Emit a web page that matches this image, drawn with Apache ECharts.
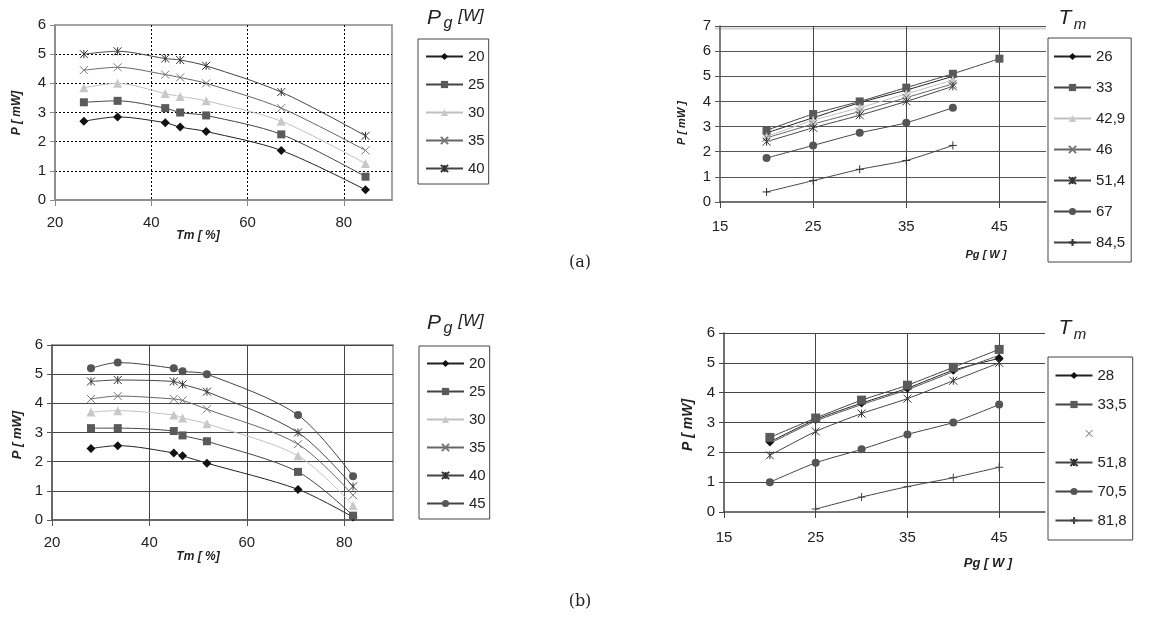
<!DOCTYPE html>
<html>
<head>
<meta charset="utf-8">
<script src="https://cdn.jsdelivr.net/npm/echarts@6/dist/echarts.min.js"></script>
<style>
  html, body { margin: 0; background: #fff; }
  #main { width: 1161px; height: 620px; }
</style>
</head>
<body>
<div id="main"></div>
<script>
// (a) lewy: P w funkcji Tm dla kilku Pg
const tmA = [26, 33, 42.9, 46, 51.4, 67, 84.5];
const pA20 = [2.7, 2.85, 2.65, 2.5, 2.35, 1.7, 0.35];
const pA25 = [3.35, 3.4, 3.15, 3.0, 2.9, 2.25, 0.8];
const pA30 = [3.85, 4.0, 3.65, 3.55, 3.4, 2.7, 1.25];
const pA35 = [4.45, 4.55, 4.3, 4.2, 4.0, 3.15, 1.7];
const pA40 = [5.0, 5.1, 4.85, 4.8, 4.6, 3.7, 2.2];

// (a) prawy: P w funkcji Pg dla kilku Tm
const pgB = [20, 25, 30, 35, 40, 45];
const pB26 = [2.75, 3.35, 3.95, 4.45, 5.0, null];
const pB33 = [2.85, 3.5, 4.0, 4.55, 5.1, 5.7];
const pB429 = [2.6, 3.25, 3.75, 4.3, 4.85, null];
const pB46 = [2.55, 3.1, 3.6, 4.15, 4.7, null];
const pB514 = [2.4, 2.95, 3.45, 4.0, 4.6, null];
const pB67 = [1.75, 2.25, 2.75, 3.15, 3.75, null];
const pB845 = [0.4, 0.85, 1.3, 1.65, 2.25, null];

// (b) lewy
const tmC = [28, 33.5, 45, 46.8, 51.8, 70.5, 81.8];
const pC20 = [2.45, 2.55, 2.3, 2.2, 1.95, 1.05, 0.1];
const pC25 = [3.15, 3.15, 3.05, 2.9, 2.7, 1.65, 0.15];
const pC30 = [3.7, 3.75, 3.6, 3.5, 3.3, 2.2, 0.5];
const pC35 = [4.15, 4.25, 4.15, 4.1, 3.8, 2.6, 0.85];
const pC40 = [4.75, 4.8, 4.75, 4.65, 4.4, 3.0, 1.15];
const pC45 = [5.2, 5.4, 5.2, 5.1, 5.0, 3.6, 1.5];

// (b) prawy
const pgD = [20, 25, 30, 35, 40, 45];
const pD28 = [2.35, 3.1, 3.65, 4.15, 4.75, 5.15];
const pD335 = [2.5, 3.15, 3.75, 4.25, 4.85, 5.45];
const pDx = [2.3, 3.05, 3.6, 4.1, 4.7, 5.25];
const pD518 = [1.9, 2.7, 3.3, 3.8, 4.4, 5.0];
const pD705 = [1.0, 1.65, 2.1, 2.6, 3.0, 3.6];
const pD818 = [null, 0.1, 0.5, 0.85, 1.15, 1.5];

const FONT = 'Liberation Sans';
const SYM_X = 'path://M0,0L10,10M10,0L0,10';
const SYM_STAR = 'path://M0,0L10,10M10,0L0,10M5,0L5,10';
const SYM_PLUS = 'path://M5,0L5,10M0,5L10,5';

function line(name, gi, xs, ys, sym, col, lineCol, size, smooth) {
  const stroked = sym.indexOf('path://') === 0;
  return {
    name: name,
    type: 'line',
    xAxisIndex: gi,
    yAxisIndex: gi,
    data: xs.map((x, i) => [x, ys[i]]),
    smooth: smooth,
    symbol: sym,
    symbolSize: size,
    symbolKeepAspect: true,
    showSymbol: sym !== 'none',
    lineStyle: { color: lineCol, width: 1 },
    itemStyle: stroked
      ? { color: 'none', borderColor: col, borderWidth: 1 }
      : { color: col, borderWidth: 0 },
    emphasis: { disabled: true },
    silent: true,
    animation: false
  };
}

function xAx(gi, min, max, interval, c, split, margin) {
  return {
    gridIndex: gi, type: 'value', min: min, max: max, interval: interval,
    axisLine: { show: true, onZero: false, lineStyle: { color: c, width: 1.5 } },
    axisTick: { show: true, length: 6, lineStyle: { color: c } },
    axisLabel: { showMaxLabel: false, fontSize: 15, color: '#222', fontFamily: FONT, margin: margin },
    splitLine: { show: true, showMinLine: false, showMaxLine: false, lineStyle: split }
  };
}

function yAx(gi, max, c, split, topLine) {
  return {
    gridIndex: gi, type: 'value', min: 0, max: max, interval: 1,
    axisLine: { show: true, onZero: false, lineStyle: { color: c, width: 1.5 } },
    axisTick: { show: true, length: 5, lineStyle: { color: c } },
    axisLabel: { fontSize: 15, color: '#222', fontFamily: FONT, margin: 9 },
    splitLine: { show: true, showMinLine: false, showMaxLine: topLine, lineStyle: split }
  };
}

function legend(left, top, names, gap, padding) {
  return {
    left: left, top: top, orient: 'vertical',
    data: names,
    formatter: n => n.split('|')[1],
    itemWidth: 37, itemHeight: 9, itemGap: gap,
    padding: padding,
    borderColor: '#444', borderWidth: 1,
    selectedMode: false,
    textStyle: { fontSize: 15, color: '#222', fontFamily: FONT }
  };
}

function txt(x, y, text, font, rot) {
  return {
    type: 'text', x: x, y: y, rotation: rot || 0, silent: true,
    style: { text: text, font: font, fill: '#222', align: 'center', verticalAlign: 'middle' }
  };
}

const AXFONT = 'italic bold 12px "Liberation Sans"';
const SUBF = 'italic 21px "Liberation Sans"';
const SUBS = 'italic 15px "Liberation Sans"';

const dotted = { color: '#000', type: [2, 2], width: 1 };
const solid = { color: '#444', width: 1 };

const option = {
  animation: false,
  grid: [
    { left: 55, top: 25, width: 337, height: 175, show: true, borderColor: '#888', borderWidth: 1.5 },
    { left: 720, top: 26, width: 326, height: 176 },
    { left: 52, top: 345, width: 341, height: 175, show: true, borderColor: '#888', borderWidth: 1.5 },
    { left: 724, top: 333, width: 321, height: 179 }
  ],
  xAxis: [
    xAx(0, 20, 90, 20, '#888', dotted, 15),
    xAx(1, 15, 50, 10, '#444', solid, 17),
    xAx(2, 20, 90, 20, '#555', solid, 15),
    xAx(3, 15, 50, 10, '#444', solid, 18)
  ],
  yAxis: [
    yAx(0, 6, '#888', dotted, false),
    yAx(1, 7, '#555', { color: '#555', width: 1 }, true),
    yAx(2, 6, '#555', solid, true),
    yAx(3, 6, '#444', solid, true)
  ],
  legend: [
    legend(418, 39, ['A|20', 'A|25', 'A|30', 'A|35', 'A|40'], 13, [10, 4, 8, 7]),
    legend(1048, 38, ['B|26', 'B|33', 'B|42,9', 'B|46', 'B|51,4', 'B|67', 'B|84,5'], 16, [11, 6, 12, 5]),
    legend(419, 346, ['C|20', 'C|25', 'C|30', 'C|35', 'C|40', 'C|45'], 13, [10, 4, 8, 7]),
    legend(1048, 357, ['D|28', 'D|33,5',
      { name: 'D| ', icon: 'path://M0,0M37,9M31,1L38,8M38,1L31,8', itemStyle: { color: 'none', borderColor: '#666', borderWidth: 1 } },
      'D|51,8', 'D|70,5', 'D|81,8'], 14, [11, 6, 12, 5])
  ],
  graphic: [
    // podwójna górna krawędź wykresu (a) prawego
    { type: 'line', silent: true, shape: { x1: 715, y1: 28.5, x2: 1046, y2: 28.5 }, style: { stroke: '#d0d0d0', lineWidth: 2 } },
    txt(198, 236, 'Tm [ %]', AXFONT),
    txt(17, 113, 'P [ mW]', AXFONT, Math.PI / 2),
    txt(986, 255, 'Pg [ W ]', 'italic bold 11px "Liberation Sans"'),
    txt(682, 123, 'P [ mW ]', 'italic bold 11px "Liberation Sans"', Math.PI / 2),
    txt(198, 557, 'Tm [ %]', AXFONT),
    txt(17, 435, 'P [ mW]', 'italic bold 13px "Liberation Sans"', Math.PI / 2),
    txt(988, 563, 'Pg [ W ]', 'italic bold 13px "Liberation Sans"'),
    txt(688, 425, 'P [ mW]', 'italic bold 14px "Liberation Sans"', Math.PI / 2),
    txt(580, 263, '(a)', '16px "DejaVu Serif"'),
    txt(580, 602, '(b)', '16px "DejaVu Serif"'),
    // tytuły legend
    txt(434, 18, 'P', SUBF), txt(448, 24, 'g', 'italic 16px "Liberation Sans"'), txt(471, 16, '[W]', 'italic 17px "Liberation Sans"'),
    txt(434, 323, 'P', SUBF), txt(448, 329, 'g', 'italic 16px "Liberation Sans"'), txt(471, 321, '[W]', 'italic 17px "Liberation Sans"'),
    txt(1065, 18, 'T', SUBF), txt(1080, 25, 'm', SUBS),
    txt(1065, 328, 'T', SUBF), txt(1080, 335, 'm', SUBS)
  ],
  series: [
    line('A|20', 0, tmA, pA20, 'diamond', '#111', '#222', 9, 0.3),
    line('A|25', 0, tmA, pA25, 'rect', '#5a5a5a', '#444', 8, 0.3),
    line('A|30', 0, tmA, pA30, 'triangle', '#c8c8c8', '#c0c0c0', 9, 0.3),
    line('A|35', 0, tmA, pA35, SYM_X, '#777', '#666', 8, 0.3),
    line('A|40', 0, tmA, pA40, SYM_STAR, '#333', '#444', 8, 0.3),

    line('B|26', 1, pgB, pB26, 'diamond', '#111', '#222', 8, 0.2),
    line('B|33', 1, pgB, pB33, 'rect', '#5a5a5a', '#444', 8, 0.2),
    line('B|42,9', 1, pgB, pB429, 'triangle', '#c8c8c8', '#c0c0c0', 9, 0.2),
    line('B|46', 1, pgB, pB46, SYM_X, '#777', '#666', 8, 0.2),
    line('B|51,4', 1, pgB, pB514, SYM_STAR, '#333', '#444', 8, 0.2),
    line('B|67', 1, pgB, pB67, 'circle', '#555', '#444', 8, 0.2),
    line('B|84,5', 1, pgB, pB845, SYM_PLUS, '#333', '#444', 8, 0.2),

    line('C|20', 2, tmC, pC20, 'diamond', '#111', '#222', 9, 0.3),
    line('C|25', 2, tmC, pC25, 'rect', '#5a5a5a', '#444', 8, 0.3),
    line('C|30', 2, tmC, pC30, 'triangle', '#c8c8c8', '#c0c0c0', 9, 0.3),
    line('C|35', 2, tmC, pC35, SYM_X, '#777', '#666', 8, 0.3),
    line('C|40', 2, tmC, pC40, SYM_STAR, '#333', '#444', 8, 0.3),
    line('C|45', 2, tmC, pC45, 'circle', '#555', '#444', 8, 0.3),

    line('D|28', 3, pgD, pD28, 'diamond', '#111', '#222', 9, 0.2),
    line('D|33,5', 3, pgD, pD335, 'rect', '#5a5a5a', '#444', 9, 0.2),
    line('D| ', 3, pgD, pDx, 'none', '#666', '#555', 8, 0.2),
    line('D|51,8', 3, pgD, pD518, SYM_STAR, '#333', '#444', 8, 0.2),
    line('D|70,5', 3, pgD, pD705, 'circle', '#555', '#444', 8, 0.2),
    line('D|81,8', 3, pgD, pD818, SYM_PLUS, '#444', '#444', 8, 0.2)
  ]
};

const myChart = echarts.init(document.getElementById('main'));
myChart.setOption(option);
</script>
</body>
</html>
